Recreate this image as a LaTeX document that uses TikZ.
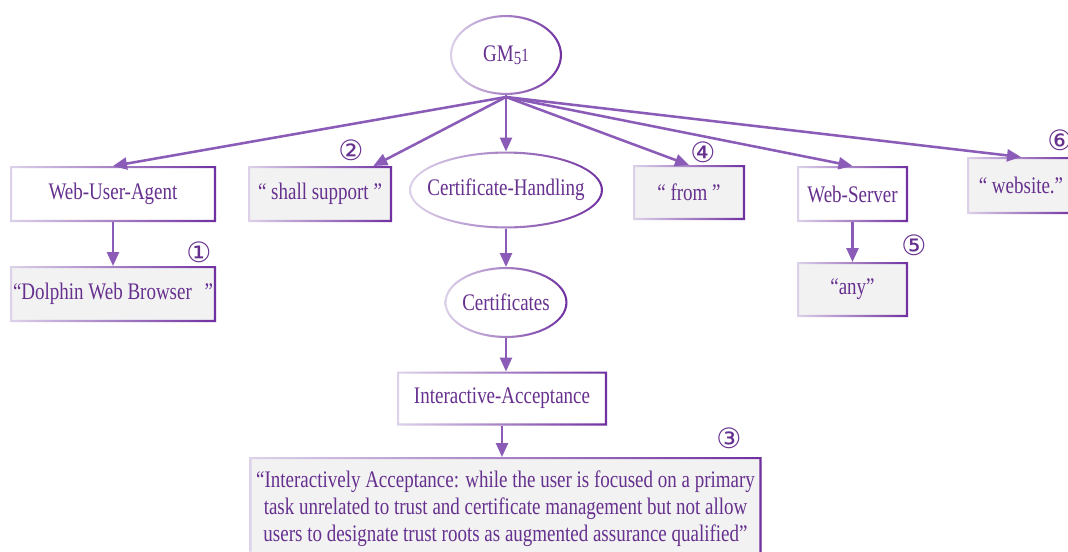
\documentclass[tikz,border=0pt]{standalone}
\usepackage{fontspec}
\setmainfont{Liberation Serif}[FakeStretch=0.8]
\newfontfamily\circfont{DejaVu Sans}
\usetikzlibrary{arrows.meta,shapes.geometric,calc}
\definecolor{txt}{HTML}{66308F}
\definecolor{arr}{HTML}{8A5CB8}
\definecolor{bdark}{HTML}{7030A0}
\definecolor{blight}{HTML}{DDD2EA}
\definecolor{qfill}{HTML}{F2F2F2}

% gradient frame around a rectangular node
\newcommand\gframe[1]{%
  \shade[left color=blight,right color=bdark,even odd rule]
    (#1.south west) rectangle (#1.north east)
    ([shift={(1.6pt,1.6pt)}]#1.south west) rectangle ([shift={(-1.6pt,-1.6pt)}]#1.north east);}
% gradient ring around an elliptic node (radii in px)
\newcommand\gring[3]{%
  \shade[left color=blight,right color=bdark,even odd rule]
    (#1.center) ellipse [x radius=#2, y radius=#3]
    (#1.center) ellipse [x radius=#2-2.1, y radius=#3-2.1];}

\begin{document}
\begin{tikzpicture}[x=0.75pt,y=-0.75pt,
  base/.style={text=txt,inner sep=0pt,outer sep=0pt,
    font=\fontsize{17.8}{21}\selectfont},
  sz/.style 2 args={minimum width=#1*0.75pt,minimum height=#2*0.75pt},
  plainbox/.style={base,rectangle,fill=white},
  quotebox/.style={base,rectangle,fill=qfill},
  ellnode/.style={base,ellipse,fill=white},
  num/.style={text=txt,inner sep=0pt,font=\circfont\fontsize{21}{21}\selectfont},
  conn/.style={draw=arr,line width=1.9pt,-{Triangle[length=10.5pt,width=9pt]}}]

\useasboundingbox (0,0) rectangle (1068,551);
\clip (0,0) rectangle (1068,551);
\fill[white] (0,0) rectangle (1068,551);

% root and ellipses
\node[ellnode,sz={112}{80},label={[base]center:GM{\fontsize{14}{14}\selectfont\raisebox{-2.5pt}{5}1}}] (gm) at (506,55) {};
\node[ellnode,sz={194}{77},label={[base]center:Certificate-Handling}] (ch) at (506,190) {};
\node[ellnode,sz={123}{71},label={[base]center:Certificates}] (certs) at (506,302.5) {};

% boxes
\node[plainbox,sz={206}{56}] (wua) at (113,194) {Web-User-Agent};
\node[quotebox,sz={206}{56}] (dol) at (113,294) {“Dolphin Web Browser\,\, ”};
\node[quotebox,sz={144}{56}] (shall) at (320,194) {“ shall support ”};
\node[plainbox,sz={210}{54}] (ia) at (502,398.5) {Interactive-Acceptance};
\node[quotebox,sz={512}{104},align=center,font=\fontsize{17.8}{20.3}\selectfont] (big) at (505.5,509)
  {“Interactively Acceptance: while the user is focused on a primary\\
   task unrelated to trust and certificate management but not allow\\
   users to designate trust roots as augmented assurance qualified”};
\node[quotebox,sz={112}{55}] (from) at (689,192.5) {“ from ”};
\node[plainbox,sz={111}{56}] (ws) at (852.5,194) {Web-Server};
\node[quotebox,sz={111}{55}] (any) at (852.5,289.5) {“any”};
\node[quotebox,sz={108}{57}] (web) at (1021,185.5) {“ website.”};

% frames
\gring{gm}{56}{40}
\gring{ch}{97}{38.5}
\gring{certs}{61.5}{35.5}
\foreach \b in {wua,dol,shall,ia,big,from,ws,any,web} {\gframe{\b}}

% connectors
\draw[conn] ([yshift=-1.5pt]gm.south) -- (wua.north);
\draw[conn] ([yshift=-1.5pt]gm.south) -- ([xshift=-14pt]shall.north east);
\draw[conn] (gm.south) -- (ch.north);
\draw[conn] ([yshift=-1.5pt]gm.south) -- (from.north);
\draw[conn] ([yshift=-1.5pt]gm.south) -- (ws.north);
\draw[conn] ([yshift=-1.5pt]gm.south) -- (web.north);
\draw[conn] (wua.south) -- (dol.north);
\draw[conn] (ws.south) -- (any.north);
\draw[conn] (ch.south) -- (certs.north);
\draw[conn] (certs.south) -- (certs.south |- ia.north);
\draw[conn] (ia.south) -- (ia.south |- big.north);

% circled markers
\node[num] (n1) at (199,252) {①};
\node[num] (n2) at (351,150) {②};
\node[num] (n3) at (729,438) {③};
\node[num] (n4) at (703,152) {④};
\node[num] (n5) at (914,245) {⑤};
\node[num] (n6) at (1060,140) {⑥};
\end{tikzpicture}
\end{document}
